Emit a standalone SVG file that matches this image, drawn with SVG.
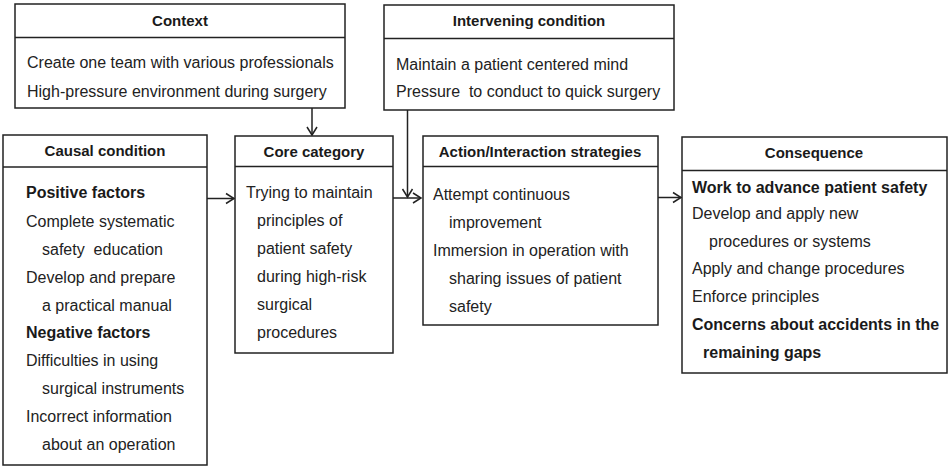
<svg xmlns="http://www.w3.org/2000/svg" width="952" height="471" viewBox="0 0 952 471">
<style>
.box{fill:#fff;stroke:#222;stroke-width:1.5}
.sep{stroke:#222;stroke-width:1.5}
.t{font-family:"Liberation Sans",Arial,sans-serif;font-size:15px;font-weight:bold;fill:#1a1a1a;text-anchor:middle}
.b{font-family:"Liberation Sans",Arial,sans-serif;font-size:16px;fill:#222;white-space:pre}
.bb{font-family:"Liberation Sans",Arial,sans-serif;font-size:16px;font-weight:bold;fill:#1a1a1a}
.c{fill:none;stroke:#222;stroke-width:1.5}
</style>
<defs>
<marker id="arr" markerUnits="userSpaceOnUse" markerWidth="14" markerHeight="14" refX="9" refY="6" orient="auto" viewBox="0 0 14 12">
<path d="M1,1 L9,6 L1,11" fill="none" stroke="#222" stroke-width="1.5"/>
</marker>
</defs>
<rect width="952" height="471" fill="#fff"/>
<g id="connectors">
<line class="c" x1="312" y1="108" x2="312" y2="135" marker-end="url(#arr)"/>
<line class="c" x1="407.5" y1="110" x2="407.5" y2="197" marker-end="url(#arr)"/>
<line class="c" x1="207" y1="198.5" x2="234" y2="198.5" marker-end="url(#arr)"/>
<line class="c" x1="393" y1="198" x2="421" y2="198" marker-end="url(#arr)"/>
<line class="c" x1="658" y1="197.5" x2="681" y2="197.5" marker-end="url(#arr)"/>
</g>
<g id="context">
<rect class="box" x="15" y="4" width="330" height="104"/>
<line class="sep" x1="15" y1="37.5" x2="345" y2="37.5"/>
<text class="t" x="180" y="26">Context</text>
<text class="b" x="27" y="68">Create one team with various professionals</text>
<text class="b" x="27" y="97">High-pressure environment during surgery</text>
</g>
<g id="intervening">
<rect class="box" x="384" y="5" width="290" height="105"/>
<line class="sep" x1="384" y1="38.5" x2="674" y2="38.5"/>
<text class="t" x="529" y="26">Intervening condition</text>
<text class="b" x="396" y="70">Maintain a patient centered mind</text>
<text class="b" x="396" y="97" xml:space="preserve">Pressure  to conduct to quick surgery</text>
</g>
<g id="causal">
<rect class="box" x="3" y="135" width="204" height="330"/>
<line class="sep" x1="3" y1="167" x2="207" y2="167"/>
<text class="t" x="105" y="156">Causal condition</text>
<text class="bb" x="26" y="198">Positive factors</text>
<text class="b" x="26" y="227">Complete systematic</text>
<text class="b" x="42" y="255" xml:space="preserve">safety  education</text>
<text class="b" x="26" y="283">Develop and prepare</text>
<text class="b" x="42" y="311">a practical manual</text>
<text class="bb" x="26" y="338">Negative factors</text>
<text class="b" x="26" y="366">Difficulties in using</text>
<text class="b" x="42" y="394">surgical instruments</text>
<text class="b" x="26" y="422">Incorrect information</text>
<text class="b" x="42" y="450">about an operation</text>
</g>
<g id="core">
<rect class="box" x="235" y="136" width="158" height="217"/>
<line class="sep" x1="235" y1="166.5" x2="393" y2="166.5"/>
<text class="t" x="314" y="157">Core category</text>
<text class="b" x="246" y="198">Trying to maintain</text>
<text class="b" x="257" y="226">principles of</text>
<text class="b" x="257" y="254">patient safety</text>
<text class="b" x="257" y="282">during high-risk</text>
<text class="b" x="257" y="310">surgical</text>
<text class="b" x="257" y="338">procedures</text>
</g>
<g id="action">
<rect class="box" x="423" y="136" width="235" height="189"/>
<line class="sep" x1="423" y1="166.5" x2="658" y2="166.5"/>
<text class="t" x="540" y="157">Action/Interaction strategies</text>
<text class="b" x="433" y="200">Attempt continuous</text>
<text class="b" x="449" y="228">improvement</text>
<text class="b" x="433" y="256">Immersion in operation with</text>
<text class="b" x="449" y="284">sharing issues of patient</text>
<text class="b" x="449" y="312">safety</text>
</g>
<g id="consequence">
<rect class="box" x="682" y="137" width="265" height="236"/>
<line class="sep" x1="682" y1="170.5" x2="947" y2="170.5"/>
<text class="t" x="814" y="158">Consequence</text>
<text class="bb" x="692" y="193">Work to advance patient safety</text>
<text class="b" x="692" y="219">Develop and apply new</text>
<text class="b" x="709" y="247">procedures or systems</text>
<text class="b" x="692" y="274">Apply and change procedures</text>
<text class="b" x="692" y="302">Enforce principles</text>
<text class="bb" x="692" y="330">Concerns about accidents in the</text>
<text class="bb" x="703" y="358">remaining gaps</text>
</g>
</svg>
